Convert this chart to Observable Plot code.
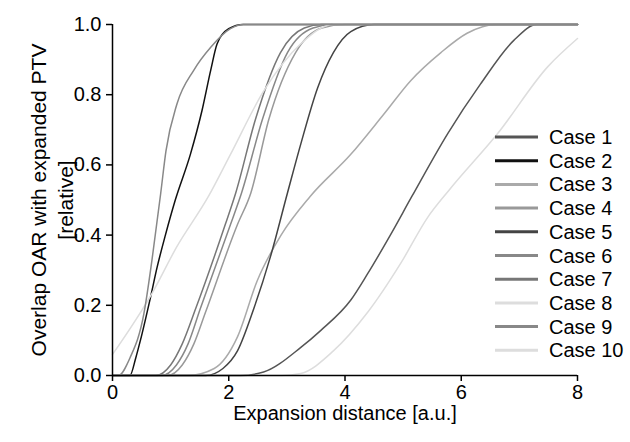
<!DOCTYPE html>
<html>
<head>
<meta charset="utf-8">
<script src="https://cdn.jsdelivr.net/npm/d3@7"></script>
<script src="https://cdn.jsdelivr.net/npm/@observablehq/plot@0.6"></script>
<style>
  html, body { margin: 0; padding: 0; background: white; }
  #chart { width: 630px; height: 442px; }
</style>
</head>
<body>
<div id="chart"></div>
<script>
const caseNames = ["Case 1","Case 2","Case 3","Case 4","Case 5","Case 6","Case 7","Case 8","Case 9","Case 10"];

const xCase1 = [0, 2.2, 2.6, 3.24, 3.58, 4.1, 4.39, 4.78, 5.15, 5.77, 6.33, 6.9, 7.3, 8];
const yCase1 = [0, 0, 0.01, 0.08, 0.128, 0.215, 0.29, 0.40, 0.51, 0.69, 0.83, 0.954, 1, 1];

const xCase2 = [0, 0.3, 0.4, 0.48, 0.65, 0.77, 0.91, 1.08, 1.34, 1.54, 1.69, 1.8, 2.0, 2.25, 8];
const yCase2 = [0, 0, 0.05, 0.10, 0.22, 0.31, 0.40, 0.50, 0.63, 0.755, 0.87, 0.945, 0.988, 1, 1];

const xCase3 = [0, 1.3, 1.75, 2.15, 2.49, 2.9, 3.4, 4.1, 4.67, 5.13, 5.65, 6.1, 6.6, 8];
const yCase3 = [0, 0, 0.02, 0.11, 0.27, 0.40, 0.51, 0.63, 0.745, 0.84, 0.92, 0.975, 1, 1];

const xCase4 = [0, 0.95, 1.2, 1.4, 1.6, 2.15, 2.38, 2.69, 3.15, 3.6, 4.0, 8];
const yCase4 = [0, 0, 0.03, 0.09, 0.18, 0.43, 0.52, 0.73, 0.92, 0.99, 1, 1];

const xCase5 = [0, 1.6, 1.9, 2.15, 2.43, 2.72, 3.01, 3.24, 3.53, 3.8, 4.1, 4.5, 8];
const yCase5 = [0, 0, 0.02, 0.07, 0.19, 0.34, 0.52, 0.66, 0.82, 0.92, 0.98, 1, 1];

const xCase6 = [0, 0.85, 1.1, 1.3, 1.51, 2.03, 2.22, 2.58, 3.01, 3.45, 3.8, 8];
const yCase6 = [0, 0, 0.03, 0.09, 0.19, 0.43, 0.52, 0.73, 0.92, 0.99, 1, 1];

const xCase7 = [0, 0.75, 1.0, 1.2, 1.43, 1.94, 2.12, 2.46, 2.89, 3.3, 3.6, 8];
const yCase7 = [0, 0, 0.03, 0.09, 0.19, 0.43, 0.52, 0.73, 0.92, 0.99, 1, 1];

const xCase8 = [0, 0.7, 1.1, 1.65, 2.03, 2.6, 3.24, 3.8, 8];
const yCase8 = [0.06, 0.24, 0.365, 0.51, 0.63, 0.81, 0.945, 1, 1];

const xCase9 = [0, 0.1, 0.3, 0.54, 0.68, 0.83, 0.92, 1.11, 1.4, 1.69, 2.03, 2.25, 8];
const yCase9 = [0, 0, 0.05, 0.176, 0.33, 0.52, 0.64, 0.774, 0.87, 0.935, 0.988, 1, 1];

const xCase10 = [0, 2.9, 3.24, 3.8, 4.39, 4.96, 5.42, 5.8, 6.63, 7.49, 8];
const yCase10 = [0, 0, 0.006, 0.07, 0.18, 0.32, 0.45, 0.53, 0.69, 0.88, 0.96];

const xTicks = [0, 2, 4, 6, 8];
const yTicks = [0, 0.2, 0.4, 0.6, 0.8, 1.0];
const xLabel = "Expansion distance [a.u.]";
const yLabel = "Overlap OAR with expanded PTV\n[relative]";

const seriesX = [xCase1, xCase2, xCase3, xCase4, xCase5, xCase6, xCase7, xCase8, xCase9, xCase10];
const seriesY = [yCase1, yCase2, yCase3, yCase4, yCase5, yCase6, yCase7, yCase8, yCase9, yCase10];
const rows = [];
caseNames.forEach((name, i) => {
  seriesX[i].forEach((x, j) => rows.push({name, x, y: seriesY[i][j]}));
});

const caseColors = ["#555555","#111111","#aaaaaa","#999999","#444444","#888888","#777777","#dddddd","#888888","#dddddd"];

const font = "'Liberation Sans', Arial, Helvetica, sans-serif";

const chart = Plot.plot({
  width: 630,
  height: 442,
  marginLeft: 112,
  marginRight: 53,
  marginTop: 24,
  marginBottom: 67,
  style: {fontFamily: font, fontSize: "20px", background: "white", color: "black"},
  x: {domain: [0, 8]},
  y: {domain: [0, 1]},
  color: {domain: caseNames, range: caseColors},
  marks: [
    Plot.line(rows, {x: "x", y: "y", z: "name", stroke: "name", strokeWidth: 1.5, curve: "monotone-x"}),
    Plot.ruleX([0], {stroke: "black", strokeWidth: 1.5}),
    Plot.ruleY([0], {stroke: "black", strokeWidth: 1.5}),
    Plot.axisX({ticks: xTicks, tickSize: 6, tickPadding: 3, strokeWidth: 1.5, fontSize: 20, label: null, tickFormat: d => String(d)}),
    Plot.axisY({ticks: yTicks, tickSize: 6, tickPadding: 5, strokeWidth: 1.5, fontSize: 20, label: null, tickFormat: d3.format(".1f")}),
    Plot.text([xLabel], {text: d => d, frameAnchor: "bottom", lineAnchor: "middle", textAnchor: "middle", dy: 38, fontSize: 20}),
    Plot.text([yLabel], {text: d => d, frameAnchor: "left", textAnchor: "middle", lineAnchor: "middle", rotate: -90, dx: -62, fontSize: 21, lineHeight: 1.28})
  ]
});

document.getElementById("chart").appendChild(chart);

// Legend inside the plot area
const svg = d3.select(chart);
const lg = svg.append("g").attr("font-family", font).attr("font-size", 20).attr("text-anchor", "start");
caseNames.forEach((name, i) => {
  const yy = 137 + i * 23.7;
  lg.append("line").attr("x1", 495).attr("x2", 538).attr("y1", yy).attr("y2", yy)
    .attr("stroke", caseColors[i]).attr("stroke-width", 3);
  lg.append("text").attr("x", 549).attr("y", yy).attr("dy", "0.35em")
    .attr("text-anchor", "start").attr("fill", "black").text(name);
});
</script>
</body>
</html>
